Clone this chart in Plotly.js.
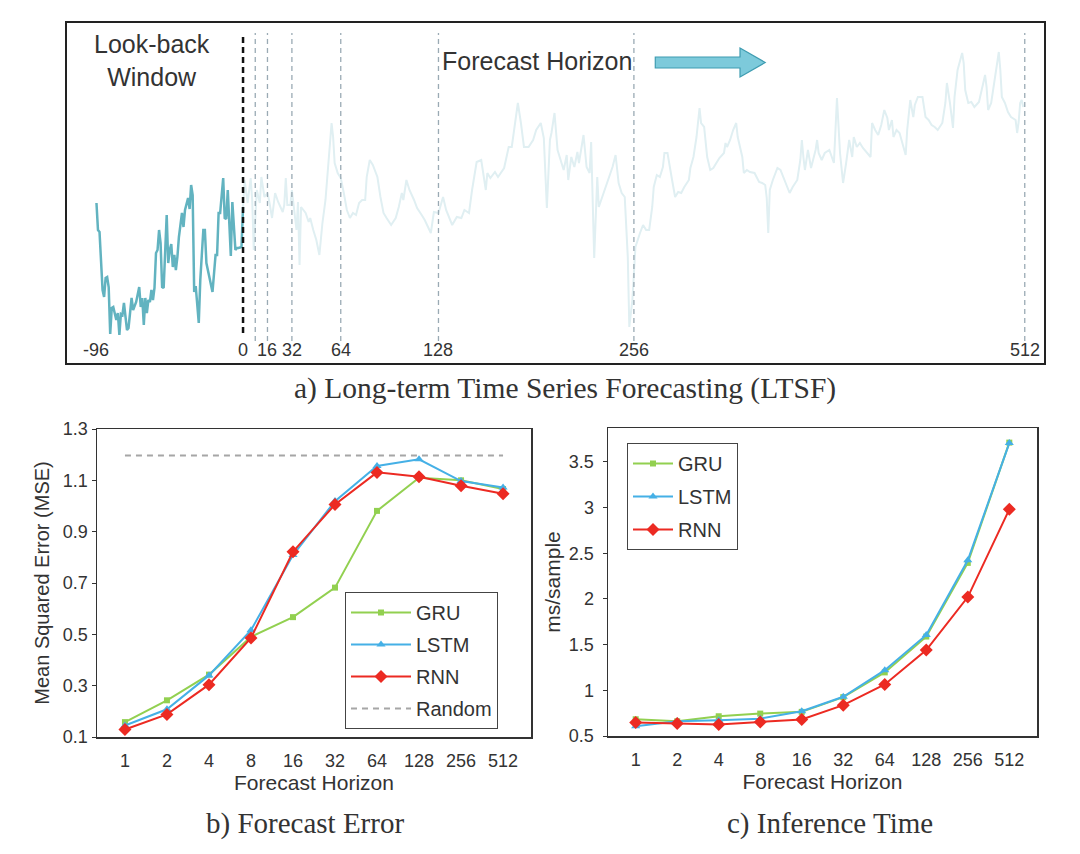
<!DOCTYPE html>
<html><head><meta charset="utf-8">
<script src="https://cdn.plot.ly/plotly-3.0.1.min.js"></script>
<style>html,body{margin:0;padding:0;background:#fff}#chart{width:1080px;height:854px}</style>
</head><body><div id="chart"></div>
<script>
// ---- Panel a: look-back window (time step, value in arbitrary units) ----
const lookbackT = [-96,-95,-94,-92,-91,-90,-89,-88,-87,-86,
  -85,-83,-82,-81,-80,-79,-78,-77,-76,-75,
  -73,-72,-70,-68,-67,-66,-65,-64,-63,-62,
  -61,-60,-59,-58,-57,-56,-55,-54,-53,-52,
  -50,-49,-48,-47,-46,-45,-44,-43,-42,-40,
  -39,-38,-37,-36,-35,-34,-33,-32,-31,-30,
  -29,-28,-27,-26,-25,-24,-20,-19,-18,-17,
  -16,-15,-14,-13,-12,-11,-10,-9,-8,-7,
  -6,-5,-4,-3,-1,0];
const lookbackV = [160,133,131,73,66,85,86,76,29,55,
  56,43,50,28,49,48,60,46,33,35,
  65,53,61,76,56,65,38,65,50,63,
  61,73,63,75,110,113,133,120,76,75,
  148,100,113,119,96,108,93,106,126,150,
  136,153,160,165,154,178,168,71,77,56,
  40,83,106,133,133,100,71,93,108,108,
  150,150,166,185,145,144,173,145,107,161,
  131,113,115,115,116,156];
// ---- Panel a: forecast horizon (faded) ----
const forecastT = [0,1,3,5,6,7,9,11,12,14,
  16,17,19,21,23,24,26,27,28,29,
  31,32,33,35,36,37,38,41,43,44,
  46,48,50,52,54,56,57,58,59,60,
  62,64,66,68,70,72,74,76,78,80,
  81,83,85,88,90,92,94,97,100,102,
  104,105,107,109,112,114,117,119,123,125,
  128,131,133,137,140,143,145,148,150,153,
  156,159,160,162,165,167,171,174,176,178,
  180,182,184,187,190,192,195,197,199,201,
  202,204,206,208,210,212,213,215,217,219,
  220,223,225,227,228,230,232,233,236,239,
  242,244,246,248,250,252,253,255,257,260,
  262,264,266,268,269,271,273,275,276,278,
  279,281,283,285,287,289,292,293,295,297,
  299,300,302,304,306,308,310,312,315,316,
  317,319,321,323,324,327,328,330,332,335,
  338,340,342,343,344,345,347,350,352,354,
  356,358,360,363,365,366,367,368,370,372,
  375,376,377,379,381,384,387,389,391,393,
  395,397,399,400,402,404,406,408,411,412,
  414,416,418,420,422,423,425,426,428,430,
  432,434,435,437,439,440,442,445,447,449,
  451,453,455,458,460,461,463,465,466,468,
  471,472,473,475,477,479,482,484,486,487,
  488,490,493,495,496,497,499,501,503,506,
  507,508,509,510,511];
const forecastV = [156,183,160,185,163,113,173,160,186,166,
  170,163,145,170,161,158,151,158,185,158,
  158,173,158,133,161,98,156,150,141,145,
  133,123,108,140,163,200,223,240,226,200,
  190,185,170,153,145,150,148,160,163,163,
  186,203,198,186,166,150,145,138,145,156,
  170,163,183,173,163,155,148,143,130,151,
  150,166,153,138,146,145,153,150,173,201,
  203,173,190,185,191,186,195,216,216,236,
  260,240,216,216,223,233,240,225,155,223,
  230,250,213,203,193,208,183,206,196,211,
  200,228,196,190,221,105,186,156,170,183,
  196,208,180,170,166,106,36,63,116,130,
  138,133,133,156,176,188,186,196,210,210,
  200,183,166,171,170,176,183,195,206,226,
  255,240,236,206,193,195,200,205,210,220,
  216,223,233,240,226,206,190,193,191,190,
  181,180,178,165,130,173,183,195,193,185,
  176,170,176,183,203,223,206,193,213,195,
  213,223,210,203,210,213,200,265,210,180,
  200,223,206,226,216,220,215,211,206,240,
  233,228,238,253,245,233,243,226,233,230,
  220,208,233,263,246,258,266,266,246,243,
  238,236,233,240,260,280,260,235,266,293,
  310,300,273,260,261,256,261,276,288,276,
  253,260,290,311,293,266,260,251,246,243,
  230,241,260,263,256];
const horizonMarks = [8,16,32,64,128,256,512];
const topTickVals = [-96,0,16,32,64,128,256,512];

// ---- Panels b & c ----
const horizons = ['1','2','4','8','16','32','64','128','256','512'];
const mseGRU  = [0.158,0.243,0.343,0.490,0.567,0.682,0.981,1.110,1.100,1.066];
const mseLSTM = [0.145,0.208,0.340,0.516,0.809,1.019,1.156,1.182,1.097,1.072];
const mseRNN  = [0.129,0.188,0.304,0.486,0.822,1.006,1.131,1.114,1.079,1.048];
const mseRandom = 1.197;
const timeGRU  = [0.683,0.661,0.716,0.745,0.764,0.925,1.196,1.588,2.394,3.710];
const timeLSTM = [0.606,0.661,0.672,0.690,0.771,0.929,1.220,1.606,2.423,3.705];
const timeRNN  = [0.647,0.636,0.625,0.654,0.680,0.837,1.064,1.441,2.020,2.980];

const SANS = 'Liberation Sans, Arial, Helvetica, sans-serif';
const SERIF = 'Liberation Serif, Times New Roman, serif';
const TXT = '#333333';
const GREEN = '#92d050', BLUE = '#45b0e6', RED = '#ec2a22';

const traces = [];
// top panel
traces.push({x: forecastT, y: forecastV, type:'scatter', mode:'lines', xaxis:'x', yaxis:'y',
  line:{color:'#e0eff2', width:2}, showlegend:false, hoverinfo:'skip'});
traces.push({x: lookbackT, y: lookbackV, type:'scatter', mode:'lines', xaxis:'x', yaxis:'y',
  line:{color:'#62b3c0', width:2.5}, showlegend:false, hoverinfo:'skip'});

const series = [
  {name:'GRU', mse:mseGRU, time:timeGRU, color:GREEN, symbol:'square', size:6},
  {name:'LSTM', mse:mseLSTM, time:timeLSTM, color:BLUE, symbol:'triangle-up', size:8},
  {name:'RNN', mse:mseRNN, time:timeRNN, color:RED, symbol:'diamond', size:10}
];
series.forEach(s => {
  traces.push({x: horizons, y: s.mse, type:'scatter', mode:'lines+markers', name:s.name,
    xaxis:'x2', yaxis:'y2', legend:'legend', legendgroup:'b' + s.name,
    line:{color:s.color, width:2}, marker:{color:s.color, symbol:s.symbol, size:s.size}});
});
traces.push({x: horizons, y: horizons.map(() => mseRandom), type:'scatter', mode:'lines', name:'Random',
  xaxis:'x2', yaxis:'y2', legend:'legend', legendgroup:'bRandom', line:{color:'#a6a6a6', width:2, dash:'6px,5px'}});
series.forEach(s => {
  traces.push({x: horizons, y: s.time, type:'scatter', mode:'lines+markers', name:s.name,
    xaxis:'x3', yaxis:'y3', legend:'legend2', legendgroup:'c' + s.name,
    line:{color:s.color, width:2}, marker:{color:s.color, symbol:s.symbol, size:s.size}});
});

// vertical markers on top panel
const shapes = [];
shapes.push({type:'line', xref:'x', yref:'y', x0:0, x1:0, y0:30, y1:330,
  line:{color:'#111', width:2.5, dash:'6px,4px'}});
horizonMarks.forEach(h => shapes.push({type:'line', xref:'x', yref:'y', x0:h, x1:h, y0:22, y1:330,
  line:{color:'#9aaab4', width:1.3, dash:'5px,4px'}}));
// arrow
const aT0 = 270, aT1 = 325.5, aT2 = 342, aV = 300.5, aS = 5.5, aH = 14.5;
shapes.push({type:'path', xref:'x', yref:'y',
  path:`M${aT0},${aV-aS} L${aT1},${aV-aS} L${aT1},${aV-aH} L${aT2},${aV} L${aT1},${aV+aH} L${aT1},${aV+aS} L${aT0},${aV+aS} Z`,
  fillcolor:'#7dcadb', line:{color:'#3f9cb1', width:1.2}});

const annotations = [];
topTickVals.forEach(t => annotations.push({x:t, y:13, xref:'x', yref:'y', text:String(t), showarrow:false,
  font:{family:SANS, size:18, color:TXT}, xanchor:'center', yanchor:'middle'}));
annotations.push({x:152/1080, y:1-61/854, xref:'paper', yref:'paper', text:'Look-back<br>Window', showarrow:false,
  font:{family:SANS, size:25, color:TXT}, xanchor:'center', yanchor:'middle', align:'center'});
annotations.push({x:440/1080, y:1-61/854, xref:'paper', yref:'paper', text:'Forecast Horizon', showarrow:false,
  font:{family:SANS, size:25, color:TXT}, xanchor:'left', yanchor:'middle'});
annotations.push({x:565/1080, y:1-388/854, xref:'paper', yref:'paper', text:'a) Long-term Time Series Forecasting (LTSF)', showarrow:false,
  font:{family:SERIF, size:29.5, color:TXT}, xanchor:'center', yanchor:'middle'});
annotations.push({x:305/1080, y:1-823/854, xref:'paper', yref:'paper', text:'b) Forecast Error', showarrow:false,
  font:{family:SERIF, size:29, color:TXT}, xanchor:'center', yanchor:'middle'});
annotations.push({x:830/1080, y:1-823/854, xref:'paper', yref:'paper', text:'c) Inference Time', showarrow:false,
  font:{family:SERIF, size:29, color:TXT}, xanchor:'center', yanchor:'middle'});

const boxAxis = {showline:true, mirror:true, linecolor:'#222', linewidth:2, showgrid:false, zeroline:false,
  ticks:'', showticklabels:false, fixedrange:true};
const catX = (dom, anchor) => ({domain:dom, anchor:anchor, type:'category', showline:true, mirror:true,
  linecolor:'#333', linewidth:1.5, showgrid:false, zeroline:false, ticks:'outside', ticklen:7, tickcolor:'rgba(0,0,0,0)',
  tickfont:{family:SANS, size:18, color:TXT},
  title:{text:'Forecast Horizon', font:{family:SANS, size:21, color:TXT}, standoff:2}});

const layout = {
  width:1080, height:854, margin:{l:0, r:0, t:0, b:0}, paper_bgcolor:'#fff', plot_bgcolor:'#fff',
  font:{family:SANS, color:TXT},
  xaxis: Object.assign({}, boxAxis, {domain:[67/1080, 1044/1080], range:[-115.3, 524.6], anchor:'y'}),
  yaxis: Object.assign({}, boxAxis, {domain:[1-363/854, 1-23/854], range:[0, 340], anchor:'x'}),
  xaxis2: catX([97/1080, 531/1080], 'y2'),
  yaxis2: {domain:[1-737/854, 1-429/854], anchor:'x2', range:[0.1, 1.3], dtick:0.2, tick0:0.1,
    showline:true, mirror:true, linecolor:'#333', linewidth:1.5, showgrid:false, zeroline:false,
    ticks:'outside', ticklen:4, tickcolor:'#333', tickfont:{family:SANS, size:18, color:TXT},
    title:{text:'Mean Squared Error (MSE)', font:{family:SANS, size:20, color:TXT}, standoff:8}},
  xaxis3: catX([608/1080, 1037/1080], 'y3'),
  yaxis3: {domain:[1-736/854, 1-428/854], anchor:'x3', range:[0.5, 3.87], dtick:0.5, tick0:0.5,
    showline:true, mirror:true, linecolor:'#333', linewidth:1.5, showgrid:false, zeroline:false,
    ticks:'outside', ticklen:4, tickcolor:'#333', ticklabelstandoff:5, tickfont:{family:SANS, size:18, color:TXT},
    title:{text:'ms/sample', font:{family:SANS, size:21, color:TXT}, standoff:2}},
  legend: {x:345/1080, y:1-592/854, xanchor:'left', yanchor:'top', bgcolor:'#fff', bordercolor:'#444', borderwidth:1,
    font:{family:SANS, size:20, color:TXT}, tracegroupgap:3, itemwidth:60},
  legend2: {x:627/1080, y:1-443/854, xanchor:'left', yanchor:'top', bgcolor:'#fff', bordercolor:'#444', borderwidth:1,
    font:{family:SANS, size:20, color:TXT}, tracegroupgap:4, itemwidth:40},
  shapes: shapes,
  annotations: annotations
};

Plotly.newPlot('chart', traces, layout, {displayModeBar:false, staticPlot:true});
</script>
</body></html>
